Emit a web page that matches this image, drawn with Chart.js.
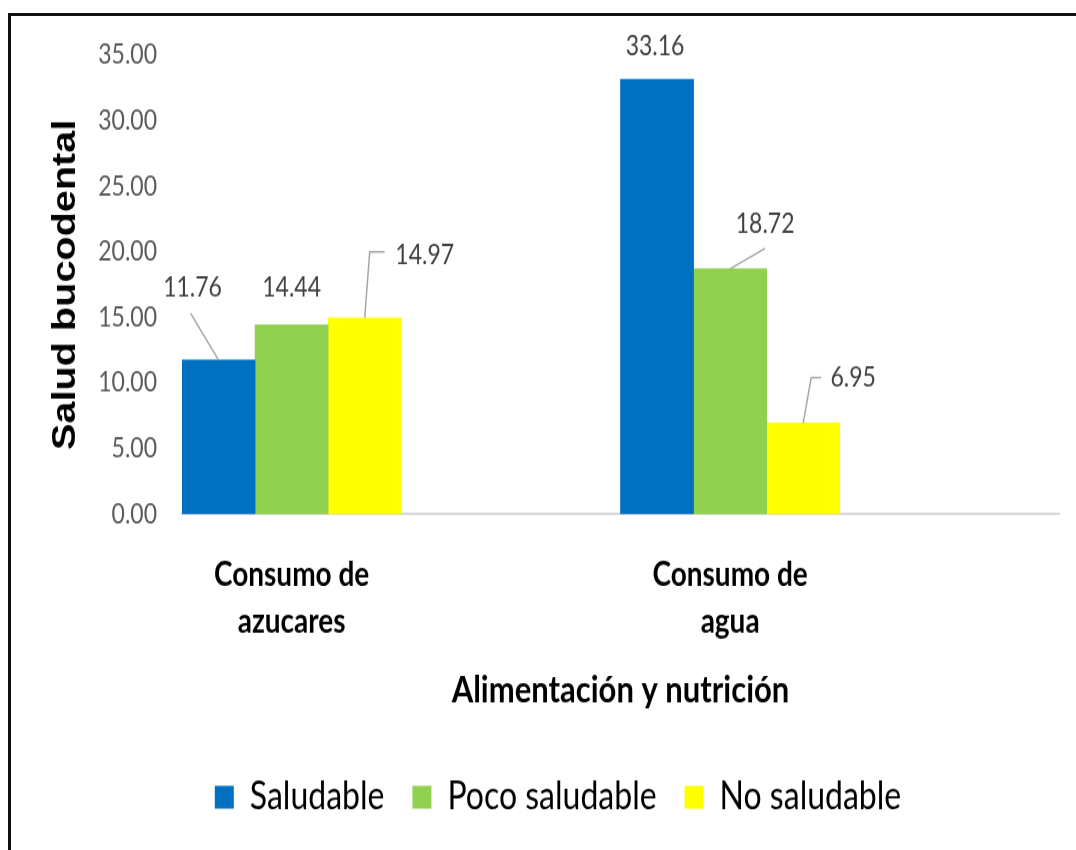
<!DOCTYPE html>
<html>
<head>
<meta charset="utf-8">
<script src="https://cdn.jsdelivr.net/npm/chart.js@4.4.1/dist/chart.umd.min.js"></script>
<style>
  html, body { margin: 0; padding: 0; background: #fff; overflow: hidden; }
  #frame { position: absolute; left: 8px; top: 13px; right: 0; bottom: 0; border-left: 3px solid #111; border-top: 3px solid #111; }
  #chart { position: absolute; left: 0; top: 0; }
</style>
</head>
<body>
<div id="frame"></div>
<!-- drawn at 708 high, shown at 850: the reference is stretched vertically -->
<canvas id="chart" width="1076" height="708" style="width:1076px;height:850px"></canvas>
<script>
// data
const categories = [['Consumo de', 'azucares'], ['Consumo de', 'agua']];
const seriesNames = ['Saludable', 'Poco saludable', 'No saludable'];
const saludable = [11.76, 33.16];
const pocoSaludable = [14.44, 18.72];
const noSaludable = [14.97, 6.95];
const yTicks = [0, 5, 10, 15, 20, 25, 30, 35];

const colors = ['#0070C0', '#92D050', '#FFFF00'];

// where each value label sits, relative to the top of its bar, and its leader line
const labelPos = [
  [[-26, -60], [-2, -28]],
  [[0, -31], [35, -37.5]],
  [[60, -52.5], [50, -37.5]]
];
const leaders = [
  [[[0, 0], [-28, -39]], null],
  [null, [[0, 0], [35, -17]]],
  [[[0, 0], [5, -55], [20, -55]], [[0, 0], [8, -38], [18, -38]]]
];

// the excel chart leaves an empty slot after each group
const slotLabels = categories.flatMap(c => [c, '']);
const toSlots = arr => arr.flatMap(v => [v, null]);

const series = [saludable, pocoSaludable, noSaludable];

const valueLabels = {
  id: 'valueLabels',
  afterDatasetsDraw(chart) {
    const ctx = chart.ctx;
    ctx.save();
    ctx.font = '23px Lato';
    ctx.fillStyle = '#404040';
    ctx.textAlign = 'center';
    ctx.textBaseline = 'middle';
    series.forEach((vals, s) => {
      const meta = chart.getDatasetMeta(s);
      vals.forEach((v, k) => {
        const bar = meta.data[k * 2];
        const lead = leaders[s][k];
        if (lead) {
          ctx.beginPath();
          ctx.strokeStyle = '#a6a6a6';
          ctx.lineWidth = 1.5;
          lead.forEach((p, i) => {
            if (i === 0) ctx.moveTo(bar.x + p[0], bar.y + p[1]);
            else ctx.lineTo(bar.x + p[0], bar.y + p[1]);
          });
          ctx.stroke();
        }
        const pos = labelPos[s][k];
        ctx.fillText(v.toFixed(2), bar.x + pos[0], bar.y + pos[1]);
      });
    });
    ctx.restore();
  }
};

new Chart(document.getElementById('chart'), {
  type: 'bar',
  data: {
    labels: slotLabels,
    datasets: series.map((vals, s) => ({
      label: seriesNames[s],
      data: toSlots(vals),
      backgroundColor: colors[s],
      borderWidth: 0,
      categoryPercentage: 1,
      barPercentage: 1
    }))
  },
  options: {
    responsive: false,
    animation: false,
    devicePixelRatio: 1,
    layout: { padding: { left: 57, right: 17, top: 46, bottom: 18 } },
    plugins: {
      tooltip: { enabled: false },
      legend: {
        position: 'bottom',
        labels: {
          boxWidth: 19,
          boxHeight: 19,
          padding: 28,
          color: '#000',
          font: { family: 'Lato', size: 32 }
        }
      }
    },
    scales: {
      x: {
        afterFit: scale => { scale.height = 191.7; },
        grid: { display: false, drawTicks: false },
        border: { display: true, color: '#d9d9d9', width: 2 },
        ticks: {
          color: '#000',
          padding: 31,
          maxRotation: 0,
          autoSkip: false,
          font: { family: 'Lato', size: 28, weight: 'bold', lineHeight: 1.4 }
        },
        title: {
          display: true,
          text: 'Alimentación y nutrición',
          color: '#000',
          font: { family: 'Lato', size: 31, weight: 'bold', lineHeight: 1.3 },
          padding: { top: 0, bottom: 24.8 }
        }
      },
      y: {
        min: 0,
        max: 35,
        afterFit: scale => { scale.width = 125; },
        afterBuildTicks: scale => { scale.ticks = yTicks.map(v => ({ value: v })); },
        grid: { display: false, drawTicks: false },
        border: { display: false },
        ticks: {
          color: '#595959',
          padding: 25,
          font: { family: 'Lato', size: 23 },
          callback: v => v.toFixed(2)
        },
        title: {
          display: true,
          text: 'Salud bucodental',
          color: '#000',
          font: { family: 'Liberation Sans', size: 33, weight: 'bold', lineHeight: 1.2 },
          padding: { top: -10.8, bottom: 0 }
        }
      }
    }
  },
  plugins: [valueLabels]
});
</script>
</body>
</html>
